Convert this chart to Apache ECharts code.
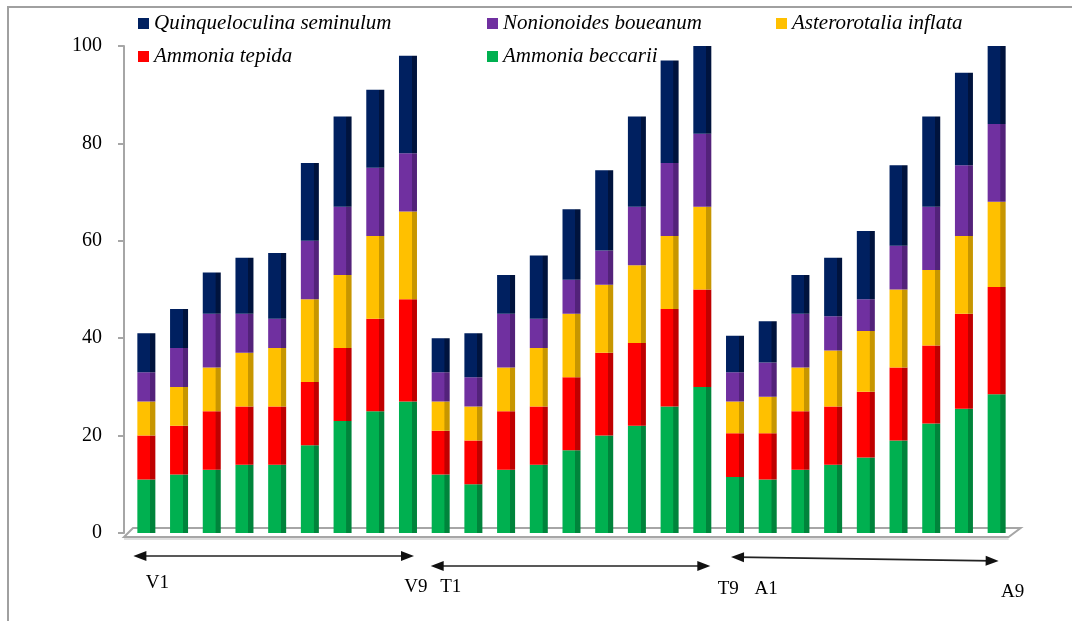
<!DOCTYPE html>
<html>
<head>
<meta charset="utf-8">
<title>Foraminifera assemblage</title>
<script src="https://cdn.jsdelivr.net/npm/echarts@6/dist/echarts.min.js"></script>
<style>
  html, body { margin: 0; padding: 0; background: #fff; }
  #chart { width: 1072px; height: 621px; }
</style>
</head>
<body>
<div id="chart"></div>
<script>
// Stations: three transects of nine stations each
const stations = [
  'V1','V2','V3','V4','V5','V6','V7','V8','V9',
  'T1','T2','T3','T4','T5','T6','T7','T8','T9',
  'A1','A2','A3','A4','A5','A6','A7','A8','A9'
];

// Abundance per species (stacked bottom to top)
const ammoniaBeccarii = [
  11, 12, 13, 14, 14, 18, 23, 25, 27,
  12, 10, 13, 14, 17, 20, 22, 26, 30,
  11.5, 11, 13, 14, 15.5, 19, 22.5, 25.5, 28.5
];
const ammoniaTepida = [
  9, 10, 12, 12, 12, 13, 15, 19, 21,
  9, 9, 12, 12, 15, 17, 17, 20, 20,
  9, 9.5, 12, 12, 13.5, 15, 16, 19.5, 22
];
const asterorotaliaInflata = [
  7, 8, 9, 11, 12, 17, 15, 17, 18,
  6, 7, 9, 12, 13, 14, 16, 15, 17,
  6.5, 7.5, 9, 11.5, 12.5, 16, 15.5, 16, 17.5
];
const nonionoidesBoueanum = [
  6, 8, 11, 8, 6, 12, 14, 14, 12,
  6, 6, 11, 6, 7, 7, 12, 15, 15,
  6, 7, 11, 7, 6.5, 9, 13, 14.5, 16
];
const quinqueloculinaSeminulum = [
  8, 8, 8.5, 11.5, 13.5, 16, 18.5, 16, 20,
  7, 9, 8, 13, 14.5, 16.5, 18.5, 21, 18,
  7.5, 8.5, 8, 12, 14, 16.5, 18.5, 19, 16
];

const yTicks = { min: 0, max: 100, interval: 20 };

const serif = "'Liberation Serif', 'Times New Roman', serif";

// front face colour + darker right-hand side face
function barFill(front, side) {
  return new echarts.graphic.LinearGradient(0, 0, 1, 0, [
    { offset: 0, color: front },
    { offset: 0.7, color: front },
    { offset: 0.72, color: side },
    { offset: 1, color: side }
  ]);
}

const speciesDefs = [
  { name: 'Ammonia beccarii', data: ammoniaBeccarii, front: '#00B050', side: '#00843B' },
  { name: 'Ammonia tepida', data: ammoniaTepida, front: '#FF0000', side: '#BF0000' },
  { name: 'Asterorotalia inflata', data: asterorotaliaInflata, front: '#FFC000', side: '#C79600' },
  { name: 'Nonionoides boueanum', data: nonionoidesBoueanum, front: '#7030A0', side: '#53227A' },
  { name: 'Quinqueloculina seminulum', data: quinqueloculinaSeminulum, front: '#002060', side: '#00133D' }
];

const series = speciesDefs.map(s => ({
  name: s.name,
  type: 'bar',
  stack: 'total',
  barWidth: 18,
  data: s.data,
  itemStyle: { color: barFill(s.front, s.side) },
  emphasis: { disabled: true },
  z: 3
}));

// legend entries, one component each so the columns line up
const legendSpots = [
  { name: 'Quinqueloculina seminulum', left: 138, top: 13, color: '#002060' },
  { name: 'Nonionoides boueanum', left: 487, top: 13, color: '#7030A0' },
  { name: 'Asterorotalia inflata', left: 776, top: 13, color: '#FFC000' },
  { name: 'Ammonia tepida', left: 138, top: 46, color: '#FF0000' },
  { name: 'Ammonia beccarii', left: 487, top: 46, color: '#00B050' }
];

const legends = legendSpots.map(l => ({
  data: [{ name: l.name, itemStyle: { color: l.color } }],
  left: l.left,
  top: l.top,
  icon: 'rect',
  itemWidth: 11,
  itemHeight: 11,
  padding: 0,
  selectedMode: false,
  textStyle: { fontFamily: serif, fontStyle: 'italic', fontSize: 21, color: '#000' }
}));

const chart = echarts.init(document.getElementById('chart'), null, { renderer: 'canvas' });

chart.setOption({
  animation: false,
  backgroundColor: '#fff',
  legend: legends,
  grid: { left: 130, right: 59, top: 46, bottom: 88, containLabel: false },
  xAxis: {
    type: 'category',
    data: stations,
    axisLine: { show: false },
    axisTick: { show: false },
    axisLabel: { show: false },
    splitLine: { show: false }
  },
  yAxis: {
    type: 'value',
    min: yTicks.min,
    max: yTicks.max,
    interval: yTicks.interval,
    offset: 6,
    axisLine: { show: true, lineStyle: { color: '#A6A6A6', width: 2 } },
    axisTick: { show: true, inside: false, length: 6, lineStyle: { color: '#A6A6A6', width: 2 } },
    axisLabel: { fontFamily: serif, fontSize: 20, color: '#000', margin: 22 },
    splitLine: { show: false }
  },
  series: series
});

// Decorations: page frame, floor slab, transect arrows and station labels
function drawDecor() {
  const xAt = i => chart.convertToPixel({ xAxisIndex: 0 }, i);
  const y0 = chart.convertToPixel({ yAxisIndex: 0 }, 0);
  const axisX = 124;
  const lastX = xAt(stations.length - 1);

  const els = [];

  // frame
  els.push({ type: 'polyline', silent: true, z: 0,
    shape: { points: [[8, 621], [8, 7], [1072, 7]] },
    style: { stroke: '#A0A0A0', lineWidth: 2, fill: null } });

  // floor
  els.push({ type: 'polygon', silent: true, z: 0,
    shape: { points: [[axisX, y0 + 4], [lastX + 12, y0 + 4], [lastX + 24, y0 - 5], [axisX + 9, y0 - 5]] },
    style: { fill: '#fff', stroke: '#A6A6A6', lineWidth: 2 } });
  els.push({ type: 'line', silent: true, z: 0,
    shape: { x1: axisX, y1: y0 + 6, x2: lastX + 12, y2: y0 + 6 },
    style: { stroke: '#BFBFBF', lineWidth: 1 } });

  function arrow(xa, ya, xb, yb) {
    const len = 13, half = 5;
    const ang = Math.atan2(yb - ya, xb - xa);
    const c = Math.cos(ang), s = Math.sin(ang);
    const head = (tx, ty, dir) => ({
      type: 'polygon', silent: true, z: 5,
      shape: { points: [
        [tx, ty],
        [tx - dir * len * c - half * s, ty - dir * len * s + half * c],
        [tx - dir * len * c + half * s, ty - dir * len * s - half * c]
      ] },
      style: { fill: '#111' }
    });
    els.push({ type: 'line', silent: true, z: 5,
      shape: { x1: xa + 6 * c, y1: ya + 6 * s, x2: xb - 6 * c, y2: yb - 6 * s },
      style: { stroke: '#222', lineWidth: 1.6 } });
    els.push(head(xb, yb, 1));
    els.push(head(xa, ya, -1));
  }

  arrow(xAt(0) - 13, y0 + 23, xAt(8) + 6, y0 + 23);
  arrow(xAt(9) - 10, y0 + 33, xAt(17) + 8, y0 + 33);
  arrow(xAt(18) - 4, y0 + 24, xAt(26) + 2, y0 + 28);

  const labels = [
    { text: 'V1', x: xAt(0) + 11, y: y0 + 50 },
    { text: 'V9', x: xAt(8) + 8, y: y0 + 54 },
    { text: 'T1', x: xAt(9) + 10, y: y0 + 54 },
    { text: 'T9', x: xAt(17) + 26, y: y0 + 56 },
    { text: 'A1', x: xAt(18) + 31, y: y0 + 56 },
    { text: 'A9', x: xAt(26) + 16, y: y0 + 59 }
  ];
  labels.forEach(l => els.push({
    type: 'text', silent: true, z: 5, x: l.x, y: l.y,
    style: { text: l.text, fill: '#000', font: '19px ' + serif, align: 'center', verticalAlign: 'middle' }
  }));

  chart.setOption({ graphic: { elements: els } });
}

drawDecor();
</script>
</body>
</html>
